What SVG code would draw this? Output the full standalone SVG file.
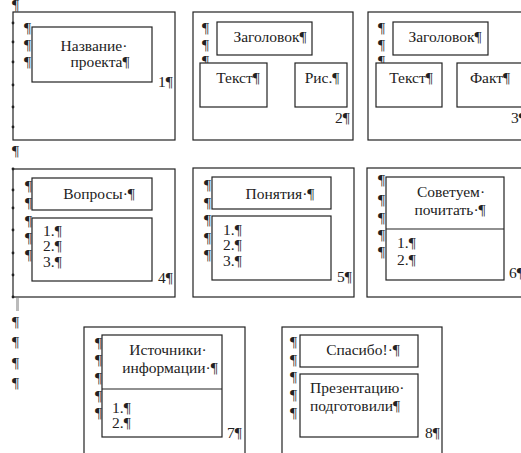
<svg xmlns="http://www.w3.org/2000/svg" width="521" height="453" viewBox="0 0 521 453">
<style>
  .box{fill:#fff;stroke:#222;stroke-width:1.2}
  .ln{stroke:#222;stroke-width:1.2}
  text{font-family:"Liberation Serif","Times New Roman",serif;font-size:15.5px;fill:#222}
  .pm{fill:#222}
  .c{text-anchor:middle}
  .dot{fill:#222}
</style>
<rect width="521" height="453" fill="#fff"/>
<g id="margin">
  <text class="pm" x="12" y="10">¶</text>
  <text class="pm" x="12" y="156">¶</text>
  <rect x="16" y="298" width="3" height="13" fill="#bbb"/>
  <text class="pm" x="12" y="327">¶</text>
  <text class="pm" x="12" y="347">¶</text>
  <text class="pm" x="12" y="368">¶</text>
  <text class="pm" x="12" y="388">¶</text>
</g>
<g id="slide1">
  <rect class="box" x="13" y="12" width="162" height="128"/>
  <circle class="dot" cx="13" cy="23" r="1.4"/><circle class="dot" cx="13" cy="42" r="1.4"/><circle class="dot" cx="13" cy="62" r="1.4"/><circle class="dot" cx="13" cy="85" r="1.4"/><circle class="dot" cx="13" cy="107" r="1.4"/><circle class="dot" cx="13" cy="127" r="1.4"/>
  <text class="pm" x="24" y="33">¶</text><text class="pm" x="24" y="50">¶</text><text class="pm" x="24" y="67">¶</text>
  <rect class="box" x="32" y="27" width="120" height="55"/>
  <text class="c" x="94" y="51">Название·</text>
  <text class="c" x="100" y="67">проекта¶</text>
  <text x="158" y="87">1¶</text>
</g>
<g id="slide2">
  <rect class="box" x="193" y="12" width="160" height="128"/>
  <text class="pm" x="202" y="33">¶</text><text class="pm" x="202" y="50">¶</text><text class="pm" x="202" y="66">¶</text>
  <rect class="box" x="217" y="22" width="95" height="33"/>
  <text class="c" x="270" y="42">Заголовок¶</text>
  <rect class="box" x="200" y="63" width="67" height="44"/>
  <text class="c" x="238" y="83">Текст¶</text>
  <rect class="box" x="295" y="63" width="52" height="44"/>
  <text class="c" x="322" y="83">Рис.¶</text>
  <text x="335" y="123">2¶</text>
</g>
<g id="slide3">
  <rect class="box" x="368" y="12" width="170" height="128"/>
  <text class="pm" x="378" y="33">¶</text><text class="pm" x="378" y="50">¶</text><text class="pm" x="378" y="66">¶</text>
  <rect class="box" x="393" y="22" width="95" height="33"/>
  <text class="c" x="445" y="42">Заголовок¶</text>
  <rect class="box" x="376" y="63" width="66" height="44"/>
  <text class="c" x="411" y="83">Текст¶</text>
  <rect class="box" x="457" y="63" width="80" height="44"/>
  <text class="c" x="490" y="83">Факт¶</text>
  <text x="511" y="123">3¶</text>
</g>
<g id="slide4">
  <rect class="box" x="13" y="169" width="162" height="128"/>
  <circle class="dot" cx="13" cy="169" r="1.4"/><circle class="dot" cx="13" cy="190" r="1.4"/><circle class="dot" cx="13" cy="208" r="1.4"/><circle class="dot" cx="13" cy="230" r="1.4"/><circle class="dot" cx="13" cy="253" r="1.4"/><circle class="dot" cx="13" cy="275" r="1.4"/><circle class="dot" cx="13" cy="297" r="1.4"/>
  <text class="pm" x="25" y="191">¶</text><text class="pm" x="25" y="208">¶</text><text class="pm" x="25" y="226">¶</text><text class="pm" x="25" y="243">¶</text><text class="pm" x="25" y="260">¶</text>
  <rect class="box" x="32" y="178" width="120" height="32"/>
  <text class="c" x="99" y="199">Вопросы·¶</text>
  <rect class="box" x="32" y="218" width="120" height="63"/>
  <text x="43" y="236">1.¶</text><text x="43" y="251">2.¶</text><text x="43" y="267">3.¶</text>
  <text x="158" y="283">4¶</text>
</g>
<g id="slide5">
  <rect class="box" x="193" y="168" width="161" height="129"/>
  <text class="pm" x="204" y="190">¶</text><text class="pm" x="204" y="208">¶</text><text class="pm" x="204" y="225">¶</text><text class="pm" x="204" y="243">¶</text><text class="pm" x="204" y="260">¶</text>
  <rect class="box" x="212" y="177" width="119" height="32"/>
  <text class="c" x="280" y="199">Понятия·¶</text>
  <rect class="box" x="212" y="216" width="119" height="64"/>
  <text x="223" y="235">1.¶</text><text x="223" y="250">2.¶</text><text x="223" y="266">3.¶</text>
  <text x="337" y="282">5¶</text>
</g>
<g id="slide6">
  <rect class="box" x="367" y="168" width="170" height="129"/>
  <text class="pm" x="378" y="185">¶</text><text class="pm" x="378" y="205">¶</text><text class="pm" x="378" y="223">¶</text><text class="pm" x="378" y="240">¶</text><text class="pm" x="378" y="257">¶</text>
  <rect class="box" x="386" y="177" width="118" height="103"/>
  <line class="ln" x1="386" y1="229" x2="504" y2="229"/>
  <text class="c" x="451" y="197">Советуем·</text>
  <text class="c" x="450" y="215">почитать·¶</text>
  <text x="397" y="248">1.¶</text><text x="397" y="265">2.¶</text>
  <text x="509" y="278">6¶</text>
</g>
<g id="slide7">
  <rect class="box" x="84" y="327" width="161" height="140"/>
  <text class="pm" x="95" y="348">¶</text><text class="pm" x="95" y="365">¶</text><text class="pm" x="95" y="383">¶</text><text class="pm" x="95" y="401">¶</text><text class="pm" x="95" y="418">¶</text>
  <rect class="box" x="102" y="335" width="120" height="102"/>
  <line class="ln" x1="102" y1="389" x2="222" y2="389"/>
  <text class="c" x="168" y="355">Источники·</text>
  <text class="c" x="170" y="373">информации·¶</text>
  <text x="112" y="413">1.¶</text><text x="112" y="428">2.¶</text>
  <text x="227" y="438">7¶</text>
</g>
<g id="slide8">
  <rect class="box" x="282" y="327" width="160" height="140"/>
  <text class="pm" x="290" y="347">¶</text><text class="pm" x="290" y="365">¶</text><text class="pm" x="290" y="382">¶</text><text class="pm" x="290" y="400">¶</text><text class="pm" x="290" y="418">¶</text>
  <rect class="box" x="300" y="335" width="118" height="32"/>
  <text class="c" x="363" y="355">Спасибо!·¶</text>
  <rect class="box" x="300" y="374" width="118" height="63"/>
  <text x="310" y="393">Презентацию·</text>
  <text x="310" y="411">подготовили¶</text>
  <text x="425" y="438">8¶</text>
</g>
</svg>
